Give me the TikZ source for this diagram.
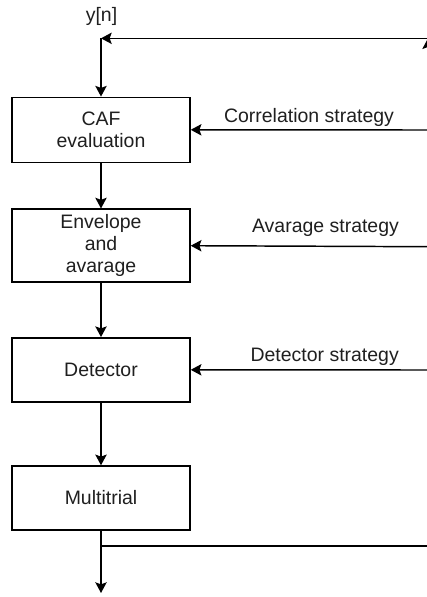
\documentclass[tikz,border=0pt]{standalone}
\usepackage{fontspec}
\setmainfont{Liberation Sans}
\usetikzlibrary{arrows.meta}
\begin{document}
\begin{tikzpicture}[x=0.75pt,y=-0.75pt,
  every node/.style={font=\fontsize{14.6}{16.5}\selectfont, text=black!88},
  blk/.style={draw, line width=1.1pt, inner sep=0pt, minimum width=133.5pt, align=center},
  conn/.style={line width=1.1pt},
  arr/.style={conn, -{Stealth[length=8pt,width=8.5pt,inset=1.5pt]}}]
\useasboundingbox (0,0) rectangle (427,597);
\clip (0,0) rectangle (427,597);
% blocks
\node[blk, minimum height=48.75pt] (caf) at (101,129.8) {\fontsize{14.6}{18.75}\selectfont CAF\\evaluation};
\node[blk, minimum height=54.75pt] (env) at (101,245.7) {Envelope\\and\\avarage};
\node[blk, minimum height=48pt] (det) at (101,369.8) {Detector};
\node[blk, minimum height=48pt] (mt) at (101,498) {Multitrial};
% labels
\node (yn) at (101.5,16.7) {y[n]};
\node (lcor) at (309,117) {Correlation strategy};
\node (lavg) at (325.5,227.7) {Avarage strategy};
\node (ldet) at (324.7,356.7) {Detector strategy};
% coordinates
\coordinate (top) at (101,38.3);
\coordinate (rtop) at (428,38.3);
\coordinate (rcor) at (428,130);
\coordinate (ravg) at (428,246.7);
\coordinate (rdet) at (428,370);
\coordinate (br) at (101,546);
\coordinate (rbr) at (428,546);
\coordinate (out) at (101,593);
% connectors
\draw[arr] (rtop) -- (top);
\draw[arr] (top) -- (caf.north);
\draw[arr] (caf.south) -- (env.north);
\draw[arr] (env.south) -- (det.north);
\draw[arr] (det.south) -- (mt.north);
\draw[arr] (mt.south) -- (out);
\draw[conn] (br) -- (rbr);
\draw[arr] (rbr) -- (rtop);
\draw[arr] (rcor) -- (caf.east);
\draw[arr] (ravg) -- (env.east);
\draw[arr] (rdet) -- (det.east);
\end{tikzpicture}
\end{document}
